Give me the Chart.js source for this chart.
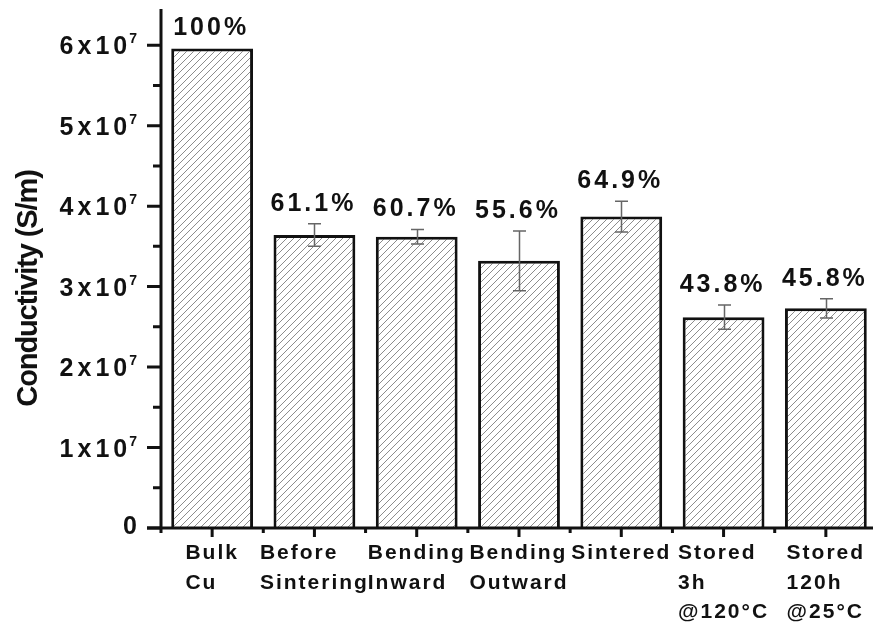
<!DOCTYPE html>
<html>
<head>
<meta charset="utf-8">
<script src="https://cdn.jsdelivr.net/npm/chart.js@4/dist/chart.umd.min.js"></script>
<style>
  html, body { margin: 0; padding: 0; background: #fff; overflow: hidden; width: 873px; height: 625px; }
  #wrap { position: absolute; left: 0; top: 0; width: 880px; height: 625px; }
</style>
</head>
<body>
<div id="wrap"><canvas id="c"></canvas></div>
<script>
// ---- Data ----
const categories = [
  ['Bulk', 'Cu'],
  ['Before', 'Sintering'],
  ['Bending', 'Inward'],
  ['Bending', 'Outward'],
  ['Sintered'],
  ['Stored', '3h', '@120°C'],
  ['Stored', '120h', '@25°C']
];
const conductivity = [5.96e7, 3.64e7, 3.62e7, 3.32e7, 3.87e7, 2.62e7, 2.73e7]; // S/m
const errorValues  = [0, 0.14e7, 0.09e7, 0.37e7, 0.19e7, 0.15e7, 0.12e7];
const percentLabels = ['100%', '61.1%', '60.7%', '55.6%', '64.9%', '43.8%', '45.8%'];
const yTickMantissas = [0, 1, 2, 3, 4, 5, 6];   // ×10^7
const yExponent = 7;
const yAxisTitle = 'Conductivity (S/m)';

const FONT = '"Liberation Sans", Arial, Helvetica, sans-serif';

// hatch pattern
function makeHatch() {
  const s = 7;
  const t = document.createElement('canvas');
  t.width = s; t.height = s;
  const g = t.getContext('2d');
  g.fillStyle = '#fff';
  g.fillRect(0, 0, s, s);
  g.strokeStyle = '#8c8c8c';
  g.lineWidth = 1;
  g.beginPath();
  g.moveTo(-1, s + 1); g.lineTo(s + 1, -1);
  g.moveTo(-1, 1); g.lineTo(1, -1);
  g.moveTo(s - 1, s + 1); g.lineTo(s + 1, s - 1);
  g.stroke();
  return document.getElementById('c').getContext('2d').createPattern(t, 'repeat');
}

function setSpacing(ctx, px) {
  if ('letterSpacing' in ctx) ctx.letterSpacing = px + 'px';
}

const decorPlugin = {
  id: 'decor',
  afterDatasetsDraw(chart) {
    const ctx = chart.ctx;
    const y = chart.scales.y;
    const meta = chart.getDatasetMeta(0);
    ctx.save();
    // error bars
    ctx.strokeStyle = '#666';
    ctx.lineWidth = 1.5;
    meta.data.forEach((bar, i) => {
      const e = errorValues[i];
      if (!e) return;
      const cx = Math.round(bar.x) + 0.5;
      const yTop = y.getPixelForValue(conductivity[i] + e);
      const yBot = y.getPixelForValue(conductivity[i] - e);
      ctx.beginPath();
      ctx.moveTo(cx, yTop); ctx.lineTo(cx, yBot);
      ctx.moveTo(cx - 6.5, yTop); ctx.lineTo(cx + 6.5, yTop);
      ctx.moveTo(cx - 6.5, yBot); ctx.lineTo(cx + 6.5, yBot);
      ctx.stroke();
    });
    // percentage labels
    ctx.fillStyle = '#111';
    ctx.font = 'bold 25px ' + FONT;
    setSpacing(ctx, 3);
    ctx.textAlign = 'center';
    ctx.textBaseline = 'alphabetic';
    meta.data.forEach((bar, i) => {
      const topVal = conductivity[i] + errorValues[i];
      const yy = y.getPixelForValue(topVal) - 13;
      ctx.fillText(percentLabels[i], bar.x - 1, yy);
    });
    ctx.restore();
  },
  afterDraw(chart) {
    const ctx = chart.ctx;
    const a = chart.chartArea;
    const x = chart.scales.x, y = chart.scales.y;
    ctx.save();
    ctx.strokeStyle = '#111';
    ctx.lineWidth = 3;
    ctx.lineCap = 'butt';
    // axes lines
    ctx.beginPath();
    ctx.moveTo(a.left, a.top);
    ctx.lineTo(a.left, a.bottom + 1.5);
    ctx.moveTo(a.left - 14, a.bottom);
    ctx.lineTo(a.right + 10, a.bottom);
    ctx.stroke();
    // y ticks major + minor
    ctx.beginPath();
    yTickMantissas.forEach((m, i) => {
      const py = y.getPixelForValue(m * Math.pow(10, yExponent));
      ctx.moveTo(a.left - 14, py); ctx.lineTo(a.left, py);
      if (i < yTickMantissas.length - 1) {
        const mid = (m + yTickMantissas[i + 1]) / 2;
        const pm = y.getPixelForValue(mid * Math.pow(10, yExponent));
        ctx.moveTo(a.left - 8, pm); ctx.lineTo(a.left, pm);
      }
    });
    // x ticks: major at centers, minor at boundaries
    const n = categories.length;
    const centers = categories.map((_, i) => x.getPixelForValue(i));
    const half = n > 1 ? (centers[1] - centers[0]) / 2 : (a.right - a.left) / 2;
    centers.forEach((cx) => {
      ctx.moveTo(cx, a.bottom); ctx.lineTo(cx, a.bottom + 9);
      ctx.moveTo(cx - half, a.bottom); ctx.lineTo(cx - half, a.bottom + 5);
    });
    ctx.moveTo(centers[n - 1] + half, a.bottom); ctx.lineTo(centers[n - 1] + half, a.bottom + 5);
    ctx.stroke();

    // y tick labels
    ctx.fillStyle = '#111';
    ctx.textBaseline = 'alphabetic';
    const rightEdge = a.left - 24;
    yTickMantissas.forEach((m) => {
      const py = y.getPixelForValue(m * Math.pow(10, yExponent));
      if (m === 0) {
        ctx.font = 'bold 25px ' + FONT;
        setSpacing(ctx, 0);
        ctx.textAlign = 'right';
        ctx.fillText('0', rightEdge, py + 6);
        return;
      }
      const base = m + 'x10';
      const sup = String(yExponent);
      ctx.font = 'bold 14px ' + FONT;
      setSpacing(ctx, 0);
      const supW = ctx.measureText(sup).width;
      ctx.textAlign = 'right';
      ctx.fillText(sup, rightEdge, py - 2);
      ctx.font = 'bold 25px ' + FONT;
      setSpacing(ctx, 4);
      ctx.fillText(base, rightEdge - supW + 2, py + 9);
    });

    // x category labels
    ctx.font = 'bold 21px ' + FONT;
    setSpacing(ctx, 2);
    ctx.textAlign = 'left';
    chart.data.labels.forEach((lines, i) => {
      const arr = Array.isArray(lines) ? lines : [lines];
      const w = Math.max(...arr.map(s => ctx.measureText(s).width));
      const left = centers[i] - w / 2;
      arr.forEach((s, k) => {
        ctx.fillText(s, left, a.bottom + 31 + k * 29.5);
      });
    });

    // y axis title
    ctx.save();
    ctx.translate(37, (a.top + a.bottom) / 2 + 20);
    ctx.rotate(-Math.PI / 2);
    ctx.font = 'bold 29px ' + FONT;
    setSpacing(ctx, -1.1);
    ctx.textAlign = 'center';
    ctx.textBaseline = 'alphabetic';
    ctx.fillText(yAxisTitle, 0, 0);
    ctx.restore();

    ctx.restore();
  }
};

const hatch = makeHatch();

new Chart(document.getElementById('c'), {
  type: 'bar',
  data: {
    labels: categories,
    datasets: [{
      data: conductivity,
      backgroundColor: hatch,
      borderColor: '#111',
      borderWidth: 3,
      barPercentage: 0.8,
      categoryPercentage: 1.0
    }]
  },
  options: {
    responsive: true,
    maintainAspectRatio: false,
    devicePixelRatio: 1,
    animation: false,
    layout: { padding: { left: 161, right: 3, top: 9, bottom: 97 } },
    plugins: { legend: { display: false }, tooltip: { enabled: false } },
    scales: {
      x: { type: 'category', display: false, offset: true },
      y: { type: 'linear', display: false, min: 0, max: 6.45e7 }
    }
  },
  plugins: [decorPlugin]
});
</script>
</body>
</html>
